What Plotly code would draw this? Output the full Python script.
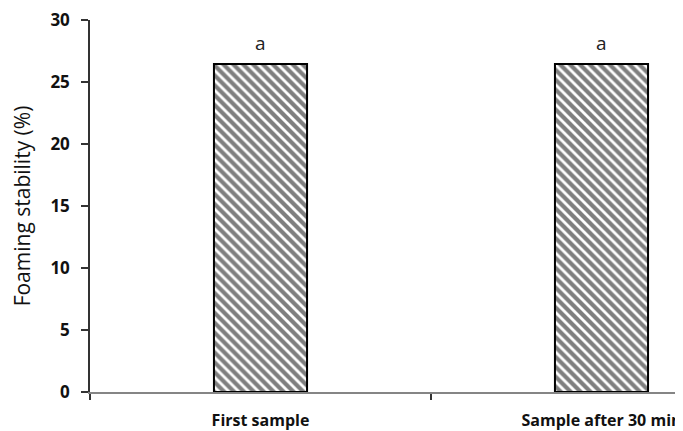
import plotly.graph_objects as go

categories = ["First sample", "Sample after 30 min"]
values = [26.45, 26.45]
letters = ["a", "a"]
y_ticks = [0, 5, 10, 15, 20, 25, 30]

FONT = "Open Sans"

fig = go.Figure()
fig.add_trace(go.Bar(
    x=categories, y=values, width=0.273,
    marker=dict(color="white",
                line=dict(color="black", width=2),
                pattern=dict(shape="\\", size=7, solidity=0.6,
                             fgcolor="black", bgcolor="white")),
    showlegend=False, hoverinfo="skip"))

for c, v, t in zip(categories, values, letters):
    fig.add_annotation(x=c, y=v, text=t, showarrow=False, yanchor="bottom",
                       yshift=6, font=dict(family=FONT, size=19, color="#222"))

fig.update_layout(
    width=675, height=423,
    margin=dict(l=82, r=0, t=12, b=39, autoexpand=False),
    paper_bgcolor="white", plot_bgcolor="white",
    xaxis=dict(type="category", range=[-0.5, -0.5 + 593 / 341],
               showline=True, linecolor="#858585", linewidth=1.5,
               ticks="outside", tickson="boundaries", ticklen=6,
               tickcolor="#333", tickwidth=1.5,
               ticklabelstandoff=13, ticklabeloverflow="allow",
               tickfont=dict(family=FONT, size=16, color="#111", weight="bold"),
               showgrid=False, zeroline=False, automargin=False),
    yaxis=dict(range=[0, 30], tickvals=y_ticks,
               showline=True, linecolor="#333", linewidth=1.5,
               ticks="outside", ticklen=7, tickcolor="#333", tickwidth=1.5,
               ticklabelstandoff=8, ticklabeloverflow="allow",
               tickfont=dict(family=FONT, size=17, color="#111", weight="bold"),
               showgrid=False, zeroline=False, automargin=False,
               title=dict(text="Foaming stability (%)", standoff=17,
                          font=dict(family=FONT, size=21, color="#111"))),
)

fig.write_html("out.html")
